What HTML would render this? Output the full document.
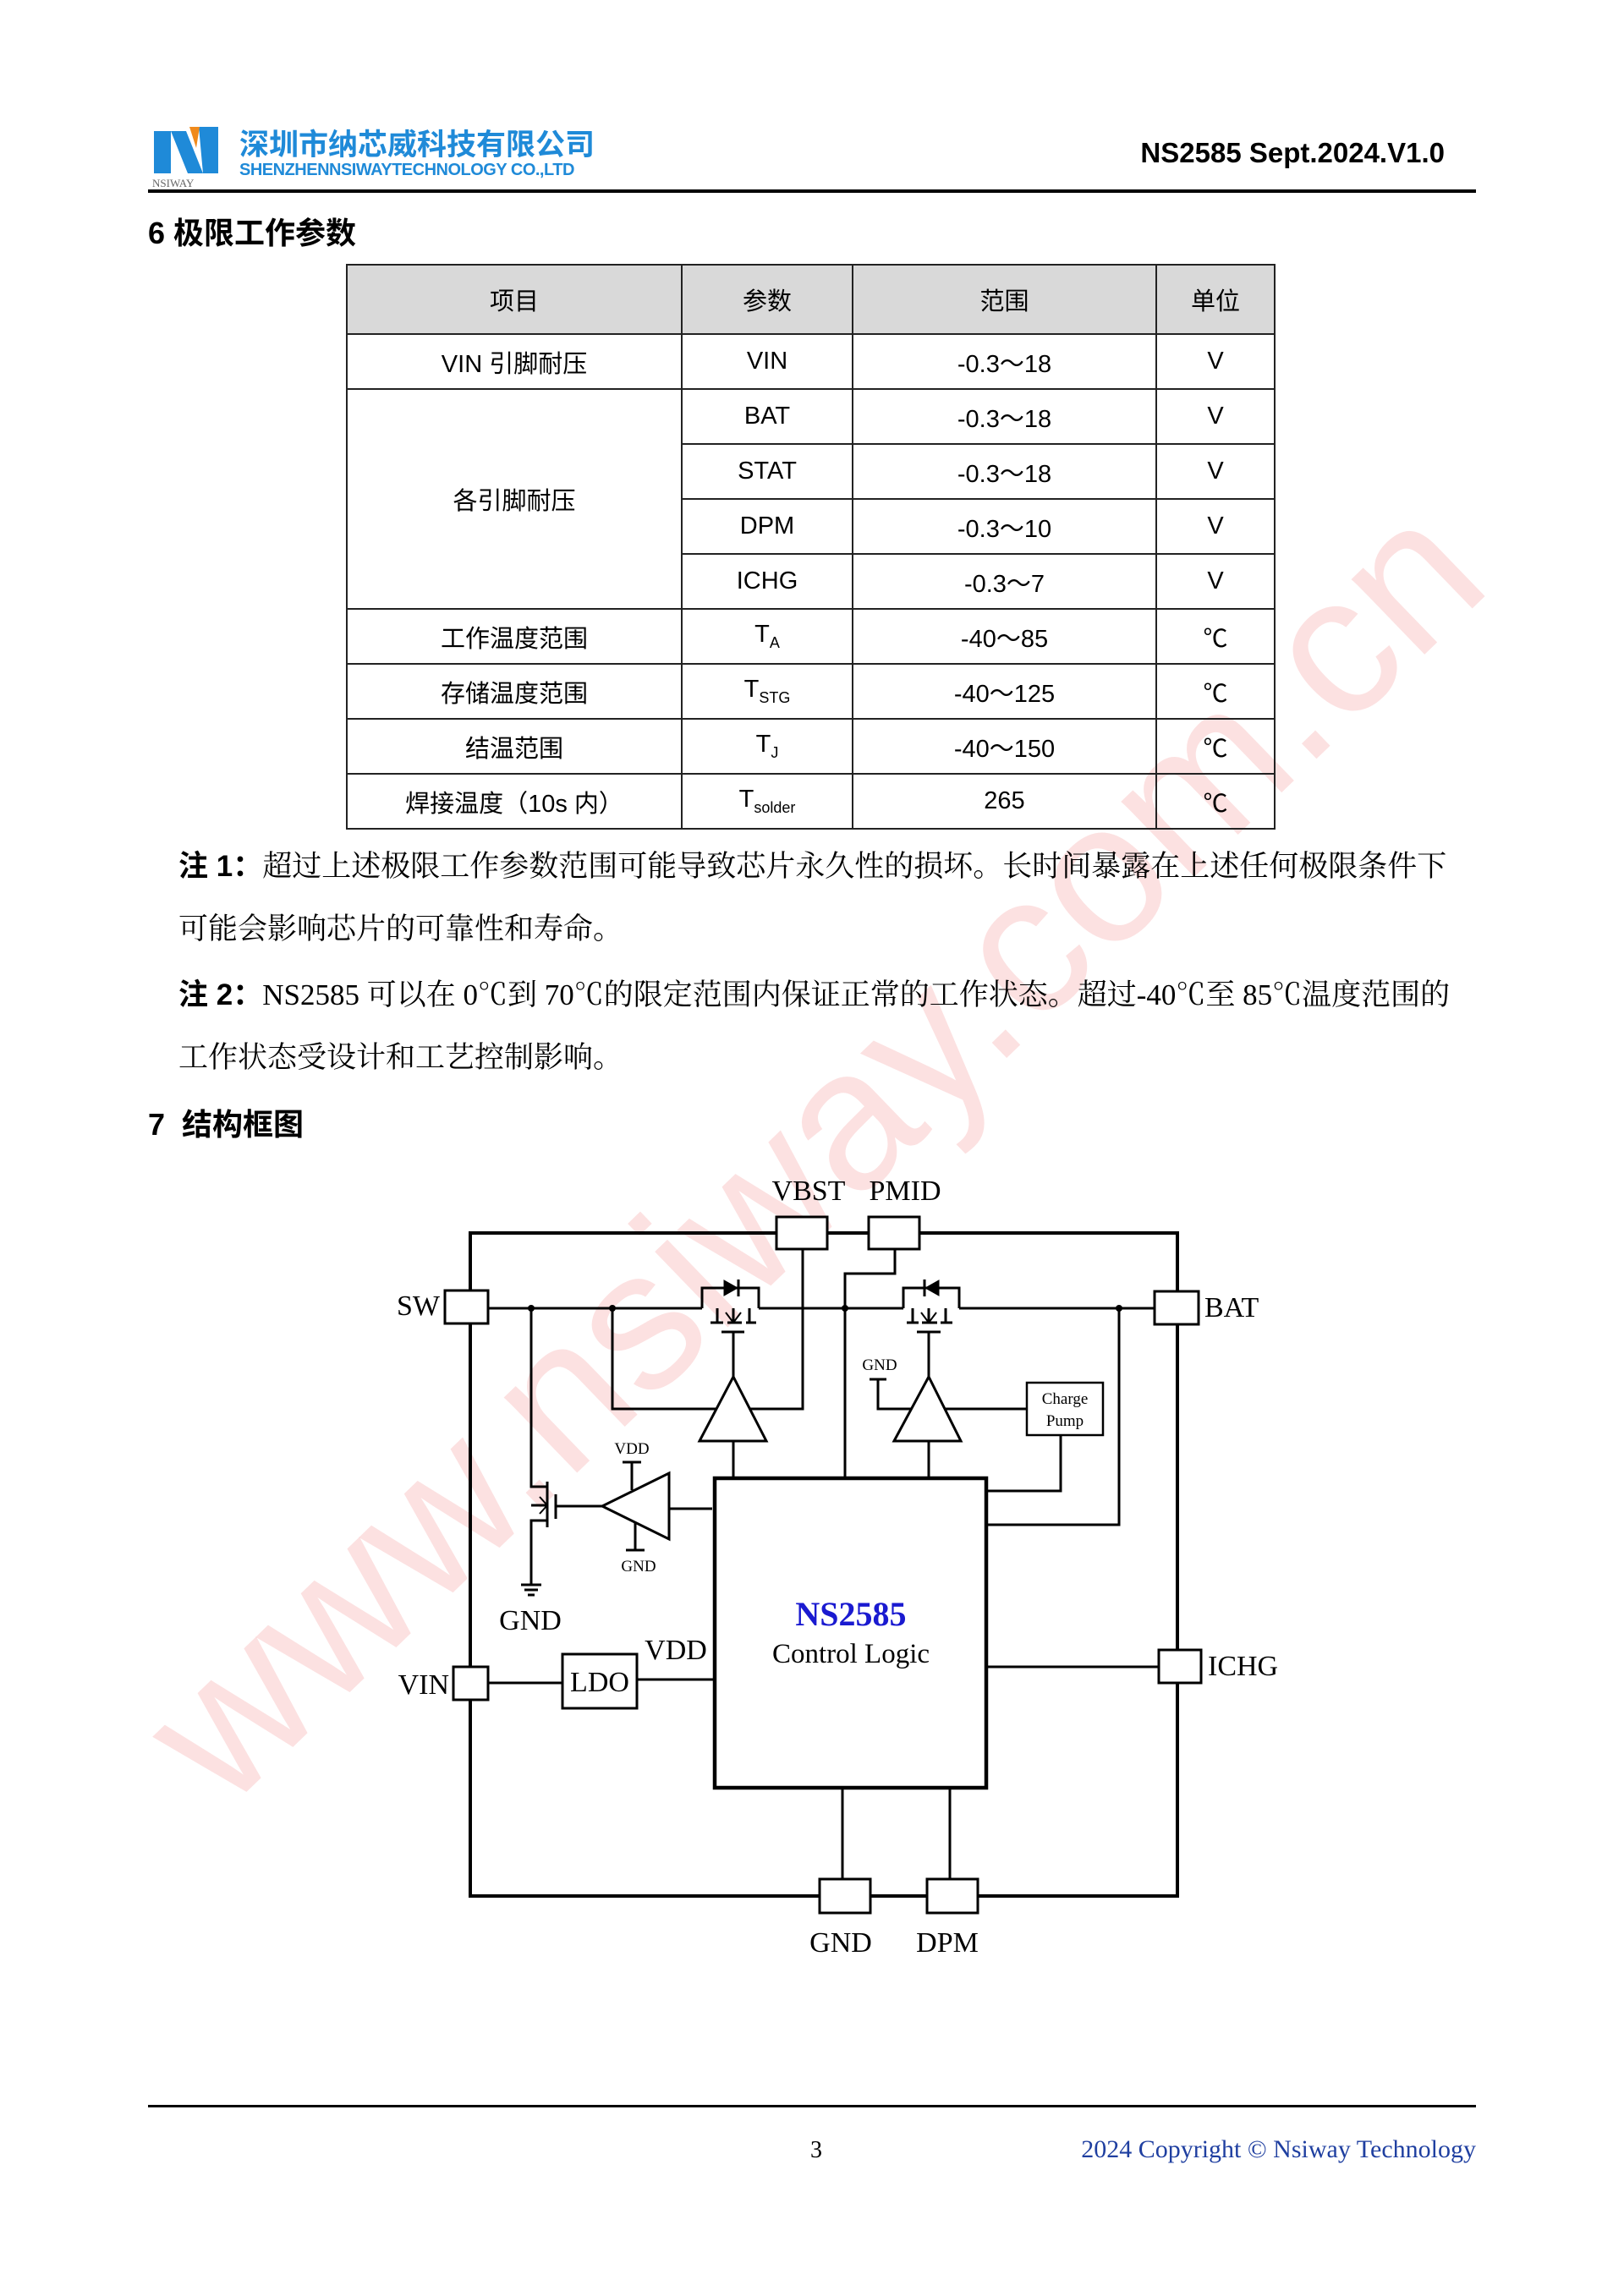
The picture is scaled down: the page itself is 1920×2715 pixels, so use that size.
<!DOCTYPE html>
<html><head><meta charset="utf-8"><style>
html,body{margin:0;padding:0;background:#fff}
body{width:1920px;height:2715px;position:relative;overflow:hidden;font-family:"Liberation Sans","Noto Sans CJK SC",sans-serif;color:#000}
.a{position:absolute;white-space:nowrap}
table{position:absolute;left:409px;top:312px;border-collapse:collapse;font-size:29px}
td{border:2px solid #222;text-align:center;padding:0;height:63px}
.note{font-family:"Liberation Serif","Noto Serif CJK SC",serif;font-size:35px}
.note b{font-family:"Liberation Sans","Noto Sans CJK SC",sans-serif}
</style></head><body>
<div class="a" style="left:0;top:0;width:1920px;height:2715px;pointer-events:none">
<div class="a" style="left:960px;top:1360px;transform:translate(-50%,-50%) rotate(-44deg);font-size:235px;color:rgba(240,80,80,0.17);font-family:'Liberation Sans',sans-serif">www.nsiway.com.cn</div>
</div>
<svg class="a" style="left:180px;top:145px" width="80" height="80" viewBox="0 0 80 80">
<polygon points="2,10 22,10 22,60 2,60" fill="#1f8ad8"/>
<polygon points="22,10 40,10 60,60 42,60" fill="#1f8ad8"/>
<polygon points="55,5 78,5 78,60 60,60" fill="#1f8ad8"/>
<polygon points="44,5 56,5 52,30" fill="#f08a1c"/>
<text x="0" y="76" font-size="13" font-family="Liberation Serif" fill="#666">NSIWAY</text>
</svg>
<div class="a" style="left:283px;top:143px;font-size:35px;font-weight:bold;color:#1f8ad8">深圳市纳芯威科技有限公司</div>
<div class="a" style="left:283px;top:190px;font-size:20px;font-weight:bold;color:#1f8ad8;letter-spacing:-0.5px">SHENZHENNSIWAYTECHNOLOGY CO.,LTD</div>
<div class="a" style="right:212px;top:162px;font-size:33px;font-weight:bold">NS2585 Sept.2024.V1.0</div>
<div class="a" style="left:175px;top:224px;width:1570px;height:4px;background:#000"></div>
<div class="a" style="left:175px;top:247px;font-size:36px;font-weight:bold">6 极限工作参数</div>
<table>
<tr style="background:#d9d9d9"><td style="width:394px;height:80px">项目</td><td style="width:200px">参数</td><td style="width:357px">范围</td><td style="width:138px">单位</td></tr>
<tr><td>VIN 引脚耐压</td><td>VIN</td><td>-0.3～18</td><td>V</td></tr>
<tr><td rowspan="4">各引脚耐压</td><td>BAT</td><td>-0.3～18</td><td>V</td></tr>
<tr><td>STAT</td><td>-0.3～18</td><td>V</td></tr>
<tr><td>DPM</td><td>-0.3～10</td><td>V</td></tr>
<tr><td>ICHG</td><td>-0.3～7</td><td>V</td></tr>
<tr><td>工作温度范围</td><td>T<sub style="font-size:18px">A</sub></td><td>-40～85</td><td>℃</td></tr>
<tr><td>存储温度范围</td><td>T<sub style="font-size:18px">STG</sub></td><td>-40～125</td><td>℃</td></tr>
<tr><td>结温范围</td><td>T<sub style="font-size:18px">J</sub></td><td>-40～150</td><td>℃</td></tr>
<tr><td>焊接温度（10s 内）</td><td>T<sub style="font-size:18px">solder</sub></td><td>265</td><td>℃</td></tr>
</table>
<div class="a note" style="left:211px;top:996px"><b>注 1：</b>超过上述极限工作参数范围可能导致芯片永久性的损坏。长时间暴露在上述任何极限条件下</div>
<div class="a note" style="left:211px;top:1071px">可能会影响芯片的可靠性和寿命。</div>
<div class="a note" style="left:211px;top:1148px"><b>注 2：</b>NS2585 可以在 0℃到 70℃的限定范围内保证正常的工作状态。超过-40℃至 85℃温度范围的</div>
<div class="a note" style="left:211px;top:1223px">工作状态受设计和工艺控制影响。</div>
<div class="a" style="left:175px;top:1301px;font-size:36px;font-weight:bold">7&nbsp; 结构框图</div>

<svg class="a" style="left:0;top:0" width="1920" height="2715" font-family="Liberation Serif, serif">
<g stroke="#000" fill="none" stroke-width="3">
<rect x="556" y="1458" width="836" height="784" stroke-width="4"/>
<g fill="#fff" stroke-width="3">
<rect x="918" y="1439" width="60" height="38"/>
<rect x="1027" y="1439" width="60" height="38"/>
<rect x="526" y="1526" width="51" height="39"/>
<rect x="1365" y="1527" width="52" height="39"/>
<rect x="536" y="1971" width="41" height="39"/>
<rect x="1370" y="1951" width="50" height="39"/>
<rect x="969" y="2222" width="60" height="40"/>
<rect x="1096" y="2222" width="60" height="40"/>
</g>
<line x1="577" y1="1547" x2="830" y2="1547"/>
<line x1="897" y1="1547" x2="1068" y2="1547"/>
<line x1="1134" y1="1547" x2="1365" y2="1547"/>
<polyline points="830,1547 830,1523 897,1523 897,1547"/>
<line x1="840" y1="1564" x2="855" y2="1564"/><line x1="860" y1="1564" x2="877" y2="1564"/><line x1="882" y1="1564" x2="894" y2="1564"/>
<line x1="848" y1="1547" x2="848" y2="1564"/><line x1="886" y1="1547" x2="886" y2="1564"/>
<polyline points="858,1552 867,1564 876,1552" stroke-width="2"/><line x1="867" y1="1547" x2="867" y2="1564"/>
<line x1="853" y1="1575" x2="880" y2="1575"/>
<line x1="867" y1="1575" x2="867" y2="1628"/>
<polygon points="856,1514 856,1532 872,1523" fill="#000" stroke-width="1"/><line x1="873" y1="1513" x2="873" y2="1533"/>
<polyline points="1068,1547 1068,1523 1134,1523 1134,1547"/>
<line x1="1072" y1="1564" x2="1086" y2="1564"/><line x1="1090" y1="1564" x2="1108" y2="1564"/><line x1="1112" y1="1564" x2="1126" y2="1564"/>
<line x1="1079" y1="1547" x2="1079" y2="1564"/><line x1="1118" y1="1547" x2="1118" y2="1564"/>
<polyline points="1089,1552 1098,1564 1107,1552" stroke-width="2"/><line x1="1098" y1="1547" x2="1098" y2="1564"/>
<line x1="1084" y1="1575" x2="1112" y2="1575"/>
<line x1="1098" y1="1575" x2="1098" y2="1628"/>
<polygon points="1110,1514 1110,1532 1094,1523" fill="#000" stroke-width="1"/><line x1="1093" y1="1513" x2="1093" y2="1533"/>
<polygon points="867,1628 827,1704 906,1704"/>
<polyline points="724,1547 724,1666 847,1666"/>
<polyline points="949,1477 949,1666 887,1666"/>
<line x1="867" y1="1704" x2="867" y2="1748"/>
<polygon points="1098,1628 1057,1704 1136,1704"/>
<polyline points="1028,1631 1048,1631"/><polyline points="1038,1631 1038,1666 1078,1666"/>
<line x1="1118" y1="1666" x2="1214" y2="1666"/>
<line x1="1098" y1="1704" x2="1098" y2="1748"/>
<rect x="1214" y="1635" width="90" height="62" stroke-width="2.5"/>
<polyline points="1254,1697 1254,1763 1166,1763"/>
<polyline points="1323,1547 1323,1803 1166,1803"/>
<polyline points="1058,1477 1058,1506 999,1506 999,1748"/>
<rect x="845" y="1748" width="321" height="366" stroke-width="4.5"/>
<polyline points="628,1547 628,1758 647,1758"/>
<line x1="647" y1="1752" x2="647" y2="1806"/>
<line x1="657" y1="1767" x2="657" y2="1796"/>
<polyline points="647,1798 628,1798 628,1874"/>
<polyline points="638,1770 647,1780 638,1790" stroke-width="2"/><line x1="628" y1="1780" x2="647" y2="1780"/>
<line x1="616" y1="1874" x2="640" y2="1874"/><line x1="620" y1="1880" x2="636" y2="1880"/><line x1="624" y1="1886" x2="632" y2="1886"/>
<line x1="657" y1="1781" x2="712" y2="1781"/>
<polygon points="712,1781 791,1742 791,1820"/>
<line x1="791" y1="1784" x2="842" y2="1784"/>
<line x1="747" y1="1729" x2="747" y2="1762"/><line x1="736" y1="1729" x2="758" y2="1729"/>
<line x1="751" y1="1800" x2="751" y2="1833"/><line x1="740" y1="1833" x2="762" y2="1833"/>
<line x1="577" y1="1990" x2="665" y2="1990"/>
<rect x="665" y="1956" width="88" height="64"/>
<line x1="753" y1="1986" x2="845" y2="1986"/>
<line x1="1166" y1="1971" x2="1370" y2="1971"/>
<line x1="996" y1="2114" x2="996" y2="2222"/>
<line x1="1123" y1="2114" x2="1123" y2="2222"/>
</g>
<g fill="#000">
<circle cx="628" cy="1547" r="4"/><circle cx="724" cy="1547" r="4"/><circle cx="999" cy="1547" r="4"/><circle cx="1323" cy="1547" r="4"/>
</g>
<g font-size="34" fill="#000">
<text x="956" y="1419" text-anchor="middle">VBST</text>
<text x="1070" y="1419" text-anchor="middle">PMID</text>
<text x="520" y="1555" text-anchor="end">SW</text>
<text x="1424" y="1557">BAT</text>
<text x="531" y="2003" text-anchor="end">VIN</text>
<text x="1428" y="1981">ICHG</text>
<text x="994" y="2308" text-anchor="middle">GND</text>
<text x="1120" y="2308" text-anchor="middle">DPM</text>
<text x="627" y="1927" text-anchor="middle">GND</text>
<text x="799" y="1962" text-anchor="middle">VDD</text>
<text x="709" y="2000" text-anchor="middle">LDO</text>
<text x="1006" y="1966" text-anchor="middle" font-size="33">Control Logic</text>
<text x="1006" y="1922" text-anchor="middle" font-size="40" font-weight="bold" fill="#1a1ad0">NS2585</text>
</g>
<g font-size="19" fill="#000" text-anchor="middle">
<text x="1040" y="1620">GND</text>
<text x="747" y="1719">VDD</text>
<text x="755" y="1858">GND</text>
<text x="1259" y="1660">Charge</text>
<text x="1259" y="1686">Pump</text>
</g>
</svg>

<div class="a" style="left:175px;top:2489px;width:1570px;height:3px;background:#000"></div>
<div class="a" style="left:958px;top:2527px;font-size:28px;font-family:'Liberation Serif',serif">3</div>
<div class="a" style="right:175px;top:2525px;font-size:30px;font-family:'Liberation Serif',serif;color:#1f3fa0">2024 Copyright © Nsiway Technology</div>
</body></html>
